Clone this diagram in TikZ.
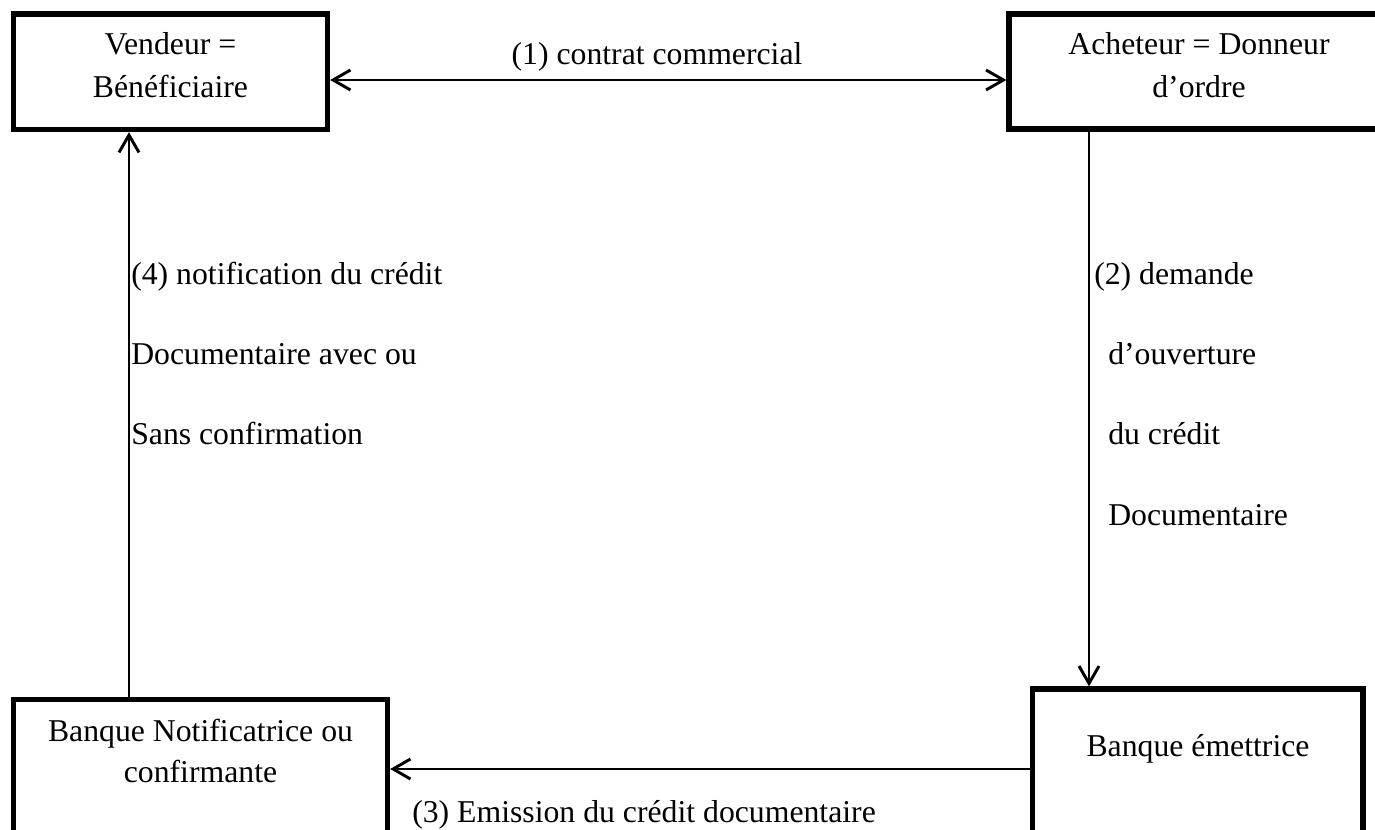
\documentclass[tikz,border=0pt]{standalone}
\usepackage{fontspec}
\setmainfont{Liberation Serif}
\usetikzlibrary{arrows.meta,fit}

\begin{document}
\begin{tikzpicture}[
    x=0.75pt, y=-0.75pt,
    >={Straight Barb[length=13pt,width=15pt]},
    box/.style={draw, line width=4pt, rectangle, inner sep=0pt},
    link/.style={draw, line width=2.2pt},
    txt/.style={inner sep=0pt, font=\fontsize{23.8}{28}\selectfont},
  ]
  \useasboundingbox (0,0) rectangle (1375,830);
  \clip (0,0) rectangle (1375,830);
  \fill[white] (0,0) rectangle (1375,830);

  % parties and banks
  \node[box, fit={(13.5,14) (327.5,129.5)}] (v) {};
  \node[box, fit={(1009,14) (1392,129)}] (a) {};
  \node[box, fit={(13.5,699.5) (387.5,860)}] (n) {};
  \node[box, fit={(1032.5,689) (1363,860)}] (e) {};

  % box captions
  \node[txt, anchor=base] (vt1) at (170.5,55) {Vendeur =};
  \node[txt, anchor=base] (vt2) at (170.5,98) {Bénéficiaire};
  \node[txt, anchor=base] (at1) at (1199,55) {Acheteur = Donneur};
  \node[txt, anchor=base] (at2) at (1199,98) {d’ordre};
  \node[txt, anchor=base] (nt1) at (200.5,741) {Banque Notificatrice ou};
  \node[txt, anchor=base] (nt2) at (200.5,782) {confirmante};
  \node[txt, anchor=base] (et1) at (1198,756) {Banque émettrice};

  % connector rails
  \coordinate (r1) at (0,80);
  \coordinate (r2) at (129,0);
  \coordinate (r3) at (1089,0);
  \coordinate (r4) at (0,769);

  % (1) commercial contract
  \draw[link, <->] (v.east |- r1) -- (a.west |- r1);
  \node[txt, anchor=base] (l1) at (657,65) {(1) contrat commercial};

  % (2) request to open the credit
  \draw[link, ->] (a.south -| r3) -- (e.north -| r3);
  \node[txt, anchor=base west] (l2a) at (1094,285) {(2) demande};
  \node[txt, anchor=base west] (l2b) at (1108,365) {d’ouverture};
  \node[txt, anchor=base west] (l2c) at (1108,445) {du crédit};
  \node[txt, anchor=base west] (l2d) at (1108,525) {Documentaire};

  % (3) issuing of the credit
  \draw[link, ->] (e.west |- r4) -- (n.east |- r4);
  \node[txt, anchor=base west] (l3) at (412,822) {(3) Emission du crédit documentaire};

  % (4) notification to the beneficiary
  \draw[link, ->] (n.north -| r2) -- (v.south -| r2);
  \node[txt, anchor=base west] (l4a) at (131,285) {(4) notification du crédit};
  \node[txt, anchor=base west] (l4b) at (131,365) {Documentaire avec ou};
  \node[txt, anchor=base west] (l4c) at (131,445) {Sans confirmation};
\end{tikzpicture}
\end{document}
